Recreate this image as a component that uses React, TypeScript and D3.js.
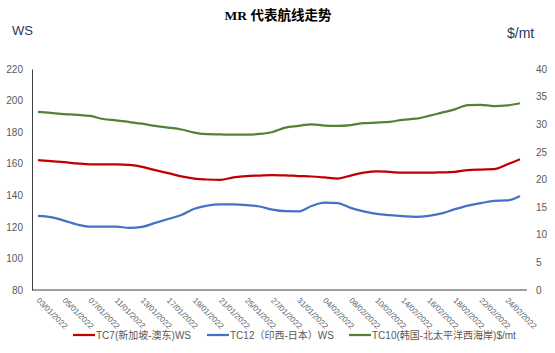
import React, { useEffect, useRef } from 'react';
import * as d3 from 'd3';

// trading days shown on the category axis (every other one gets a label)
const dates = [
    '03/01/2022', '04/01/2022', '05/01/2022', '06/01/2022', '07/01/2022',
    '10/01/2022', '11/01/2022', '12/01/2022', '13/01/2022', '14/01/2022',
    '17/01/2022', '18/01/2022', '19/01/2022', '20/01/2022', '21/01/2022',
    '24/01/2022', '25/01/2022', '26/01/2022', '27/01/2022', '28/01/2022',
    '31/01/2022', '03/02/2022', '04/02/2022', '07/02/2022', '08/02/2022',
    '09/02/2022', '10/02/2022', '11/02/2022', '14/02/2022', '15/02/2022',
    '16/02/2022', '17/02/2022', '18/02/2022', '21/02/2022', '22/02/2022',
    '23/02/2022', '24/02/2022', '25/02/2022',
];

// TC7 WS (left axis)
const tc7 = [
    162.3, 161.6, 161.0, 160.2, 159.6, 159.6, 159.6, 159.2, 158.0, 155.9,
    154.0, 152.0, 150.6, 150.0, 149.8, 151.3, 152.2, 152.5, 152.8, 152.6,
    152.2, 151.9, 151.3, 150.6, 152.5, 154.3, 155.2, 154.8, 154.3, 154.3,
    154.3, 154.5, 154.8, 156.0, 156.3, 156.5, 159.5, 162.8,
];

// TC12 WS (left axis)
const tc12 = [
    126.9, 126.1, 124.0, 121.5, 120.1, 120.1, 120.1, 119.4, 120.0, 122.5,
    125.0, 127.5, 131.5, 133.5, 134.2, 134.2, 133.8, 132.9, 130.9, 129.9,
    129.8, 133.2, 135.3, 135.1, 132.0, 129.8, 128.2, 127.4, 126.8, 126.4,
    127.0, 128.5, 131.2, 133.5, 135.0, 136.5, 136.7, 139.6,
];

// TC10 $/mt (right axis)
const tc10 = [
    32.25, 32.05, 31.85, 31.7, 31.5, 30.95, 30.7, 30.4, 30.1, 29.7,
    29.4, 29.05, 28.5, 28.2, 28.15, 28.1, 28.1, 28.25, 28.6, 29.4,
    29.7, 30.0, 29.75, 29.7, 29.85, 30.2, 30.3, 30.45, 30.8, 31.0,
    31.5, 32.1, 32.7, 33.45, 33.5, 33.3, 33.4, 33.8,
];

const leftTicks = [80, 100, 120, 140, 160, 180, 200, 220];
const rightTicks = [0, 5, 10, 15, 20, 25, 30, 35, 40];

const legendNames = ['TC7(新加坡-澳东)WS', 'TC12（印西-日本）WS', 'TC10(韩国-北太平洋西海岸)$/mt'];
const colors = ['#C00000', '#4472C4', '#548235'];

const FONT = '"Liberation Sans", "Noto Sans CJK SC", sans-serif';

const App: React.FC = () => {
    const svgRef = useRef<SVGSVGElement>(null);

    useEffect(() => {
        if (!svgRef.current) return;
        const svg = d3.select(svgRef.current);
        svg.selectAll('*').remove();

        const left = 32, right = 527, top = 69, bottom = 290;

        const x = d3.scalePoint<string>().domain(dates).range([38, 520]);
        const yL = d3.scaleLinear().domain([80, 220]).range([bottom, top]);
        const yR = d3.scaleLinear().domain([0, 40]).range([bottom, top]);

        svg.append('rect').attr('width', 555).attr('height', 353).attr('fill', '#fff');

        // title
        svg.append('text')
            .attr('x', 278).attr('y', 20)
            .attr('text-anchor', 'middle')
            .attr('font-family', '"Liberation Serif", "Noto Sans CJK SC", serif')
            .attr('font-weight', 'bold')
            .attr('font-size', 13.5)
            .attr('fill', '#000')
            .text('MR 代表航线走势');

        // unit labels
        svg.append('text')
            .attr('x', 12).attr('y', 35)
            .attr('font-family', FONT).attr('font-size', 13)
            .attr('fill', '#1F3864')
            .text('WS');
        svg.append('text')
            .attr('x', 507).attr('y', 38)
            .attr('font-family', FONT).attr('font-size', 14)
            .attr('fill', '#1F3864')
            .text('$/mt');

        // left axis
        const gL = svg.append('g')
            .attr('transform', `translate(${left},0)`)
            .call(d3.axisLeft(yL).tickValues(leftTicks).tickSize(0).tickSizeOuter(0).tickPadding(9));
        gL.select('.domain').attr('stroke', '#404040').attr('stroke-width', 1);
        gL.selectAll('text').attr('font-family', FONT).attr('font-size', 10).attr('fill', '#595959');

        // right axis (no line)
        const gR = svg.append('g')
            .attr('transform', `translate(${right},0)`)
            .call(d3.axisRight(yR).tickValues(rightTicks).tickSize(0).tickSizeOuter(0).tickPadding(9));
        gR.select('.domain').remove();
        gR.selectAll('text').attr('font-family', FONT).attr('font-size', 10).attr('fill', '#595959');

        // bottom axis line
        svg.append('line')
            .attr('x1', left).attr('x2', right)
            .attr('y1', bottom).attr('y2', bottom)
            .attr('stroke', '#404040').attr('stroke-width', 1);

        // rotated date labels, every other category
        svg.append('g')
            .selectAll('text')
            .data(dates.filter((_, i) => i % 2 === 0))
            .join('text')
            .attr('transform', d => `translate(${(x(d) ?? 0) - 2},${bottom + 11}) rotate(45)`)
            .attr('font-family', FONT)
            .attr('font-size', 8)
            .attr('fill', '#595959')
            .text(d => d);

        const lineL = d3.line<number>()
            .x((_, i) => x(dates[i]) ?? 0)
            .y(d => yL(d))
            .curve(d3.curveMonotoneX);
        const lineR = d3.line<number>()
            .x((_, i) => x(dates[i]) ?? 0)
            .y(d => yR(d))
            .curve(d3.curveMonotoneX);

        const series: [number[], d3.Line<number>][] = [[tc7, lineL], [tc12, lineL], [tc10, lineR]];
        series.forEach(([vals, gen], k) => {
            svg.append('path')
                .datum(vals)
                .attr('fill', 'none')
                .attr('stroke', colors[k])
                .attr('stroke-width', 2.25)
                .attr('stroke-linejoin', 'round')
                .attr('d', gen);
        });

        // legend
        const legendX = [73, 207, 349];
        const lg = svg.append('g');
        legendNames.forEach((name, k) => {
            lg.append('line')
                .attr('x1', legendX[k]).attr('x2', legendX[k] + 22)
                .attr('y1', 335).attr('y2', 335)
                .attr('stroke', colors[k]).attr('stroke-width', 2.25);
            lg.append('text')
                .attr('x', legendX[k] + 23).attr('y', 335)
                .attr('dy', '0.35em')
                .attr('font-family', FONT)
                .attr('font-size', 10)
                .attr('fill', '#595959')
                .text(name);
        });
    }, []);

    return (
        <svg ref={svgRef} width={555} height={353}
            style={{ position: 'absolute', left: 0, top: 0 }}></svg>
    );
};

export default App;
